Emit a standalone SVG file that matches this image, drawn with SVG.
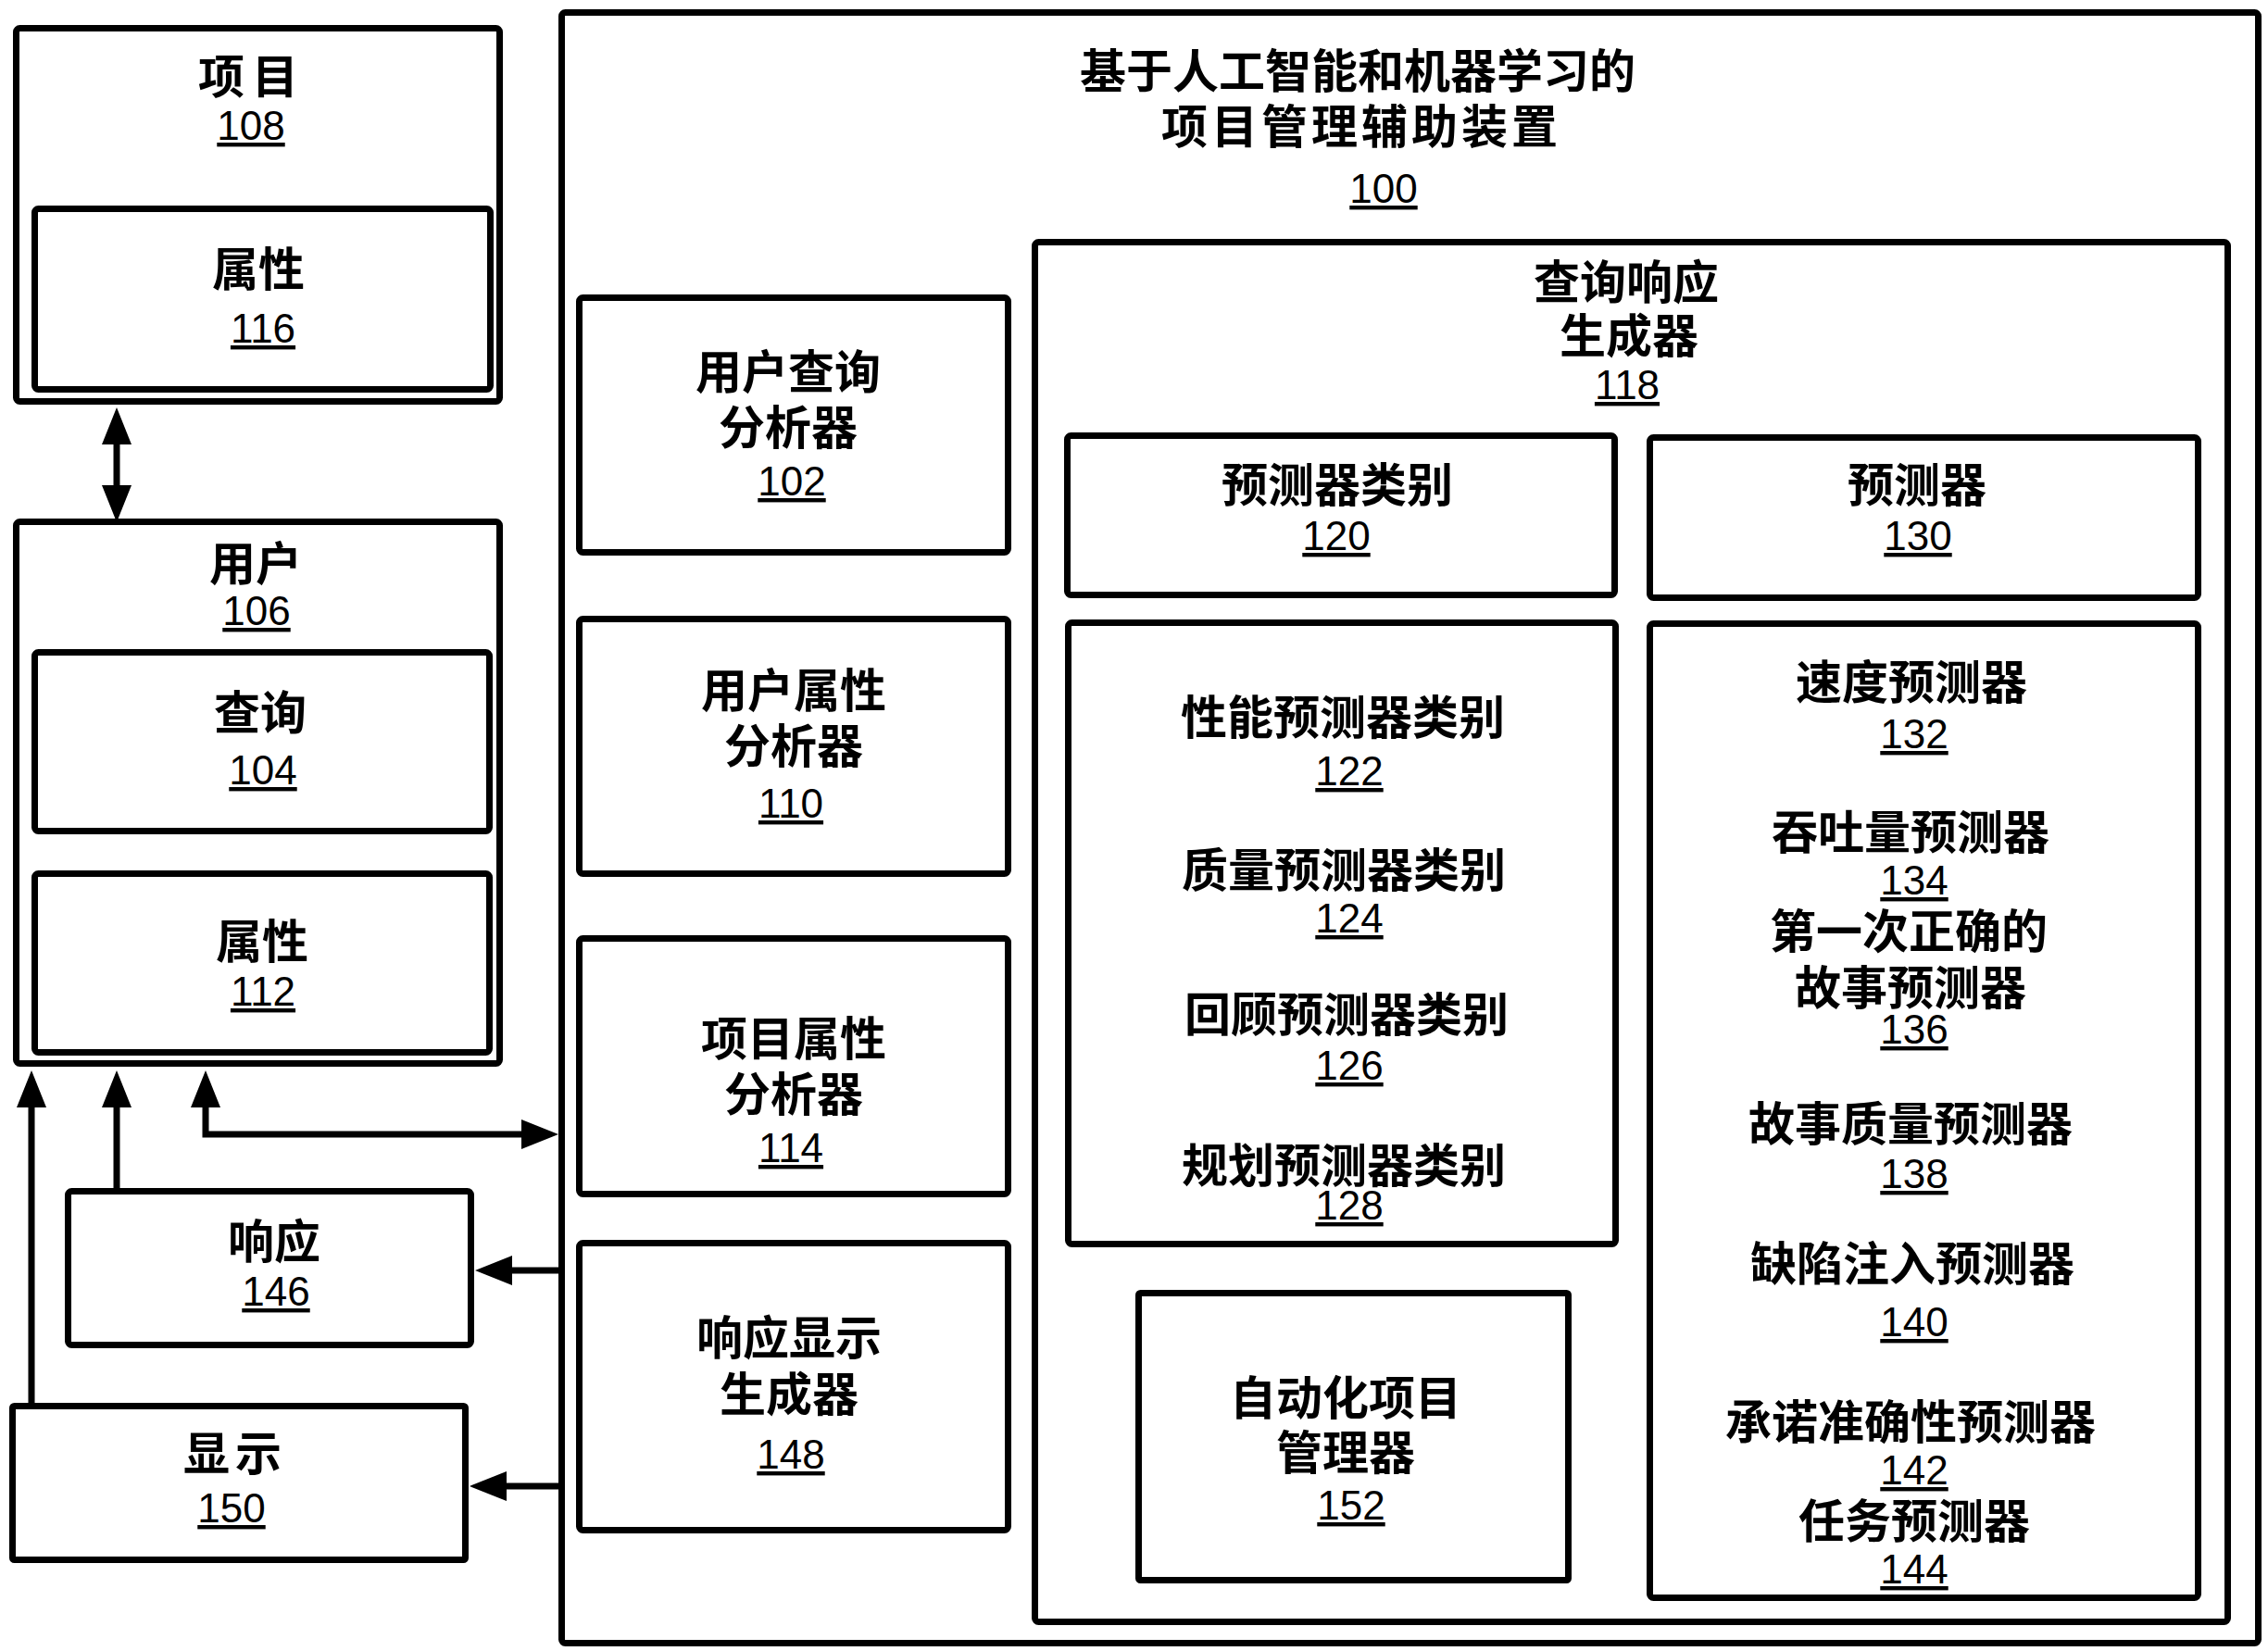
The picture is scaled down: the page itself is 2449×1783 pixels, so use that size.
<svg xmlns="http://www.w3.org/2000/svg" width="2449" height="1783" viewBox="0 0 2449 1783">
<style>
.box{fill:#fff;stroke:#000;stroke-width:7}
.cn{font-family:"Noto Sans CJK SC","Noto Sans CJK JP",sans-serif;font-weight:700;font-size:50px;text-anchor:middle;fill:#000}
.num{font-family:"Liberation Sans",Arial,sans-serif;font-size:44px;text-anchor:middle;text-decoration:underline;fill:#000}
.conn{stroke:#000;stroke-width:7;fill:none}
</style>
<defs>
<marker id="ah" markerUnits="userSpaceOnUse" markerWidth="40" markerHeight="32" refX="2" refY="16" orient="auto-start-reverse" viewBox="0 0 40 32">
<path d="M0,0 L40,16 L0,32 z" fill="#000"/>
</marker>
</defs>
<rect width="2449" height="1783" fill="#fff"/>

<g id="n100">
<rect class="box" x="606.5" y="13.5" width="1832" height="1761" rx="4"/>
<text class="cn" x="1466" y="95">基于人工智能和机器学习的</text>
<text class="cn" x="1470" y="155" letter-spacing="4">项目管理辅助装置</text>
<text class="num" x="1494" y="219">100</text>
</g>

<g id="n108">
<rect class="box" x="17.5" y="30.5" width="522" height="403" rx="4"/>
<text class="cn" x="272" y="101" letter-spacing="8">项目</text>
<text class="num" x="271" y="151">108</text>
</g>
<g id="n116">
<rect class="box" x="37.5" y="225.5" width="492" height="195" rx="4"/>
<text class="cn" x="279" y="309">属性</text>
<text class="num" x="284" y="370">116</text>
</g>

<g id="n106">
<rect class="box" x="17.5" y="563.5" width="522" height="585" rx="4"/>
<text class="cn" x="276" y="627">用户</text>
<text class="num" x="277" y="675">106</text>
</g>
<g id="n104">
<rect class="box" x="37.5" y="704.5" width="491" height="193" rx="4"/>
<text class="cn" x="281" y="788">查询</text>
<text class="num" x="284" y="847">104</text>
</g>
<g id="n112">
<rect class="box" x="37.5" y="943.5" width="491" height="193" rx="4"/>
<text class="cn" x="283" y="1035">属性</text>
<text class="num" x="284" y="1086">112</text>
</g>

<g id="n146">
<rect class="box" x="73.5" y="1286.5" width="435" height="166" rx="4"/>
<text class="cn" x="296" y="1359">响应</text>
<text class="num" x="298" y="1410">146</text>
</g>
<g id="n150">
<rect class="box" x="13.5" y="1518.5" width="489" height="166" rx="2"/>
<text class="cn" x="254" y="1588" letter-spacing="6">显示</text>
<text class="num" x="250" y="1644">150</text>
</g>

<g id="n102">
<rect class="box" x="625.5" y="321.5" width="463" height="275" rx="4"/>
<text class="cn" x="851" y="420">用户查询</text>
<text class="cn" x="851" y="480">分析器</text>
<text class="num" x="855" y="535">102</text>
</g>
<g id="n110">
<rect class="box" x="625.5" y="668.5" width="463" height="275" rx="4"/>
<text class="cn" x="857" y="764">用户属性</text>
<text class="cn" x="857" y="824">分析器</text>
<text class="num" x="854" y="883">110</text>
</g>
<g id="n114">
<rect class="box" x="625.5" y="1013.5" width="463" height="276" rx="4"/>
<text class="cn" x="857" y="1140">项目属性</text>
<text class="cn" x="857" y="1200">分析器</text>
<text class="num" x="854" y="1255">114</text>
</g>
<g id="n148">
<rect class="box" x="625.5" y="1342.5" width="463" height="310" rx="4"/>
<text class="cn" x="852" y="1463">响应显示</text>
<text class="cn" x="852" y="1524">生成器</text>
<text class="num" x="854" y="1586">148</text>
</g>

<g id="n118">
<rect class="box" x="1117.5" y="261.5" width="1288" height="1490" rx="4"/>
<text class="cn" x="1756" y="323">查询响应</text>
<text class="cn" x="1759" y="381">生成器</text>
<text class="num" x="1757" y="431">118</text>
</g>
<g id="n120">
<rect class="box" x="1152.5" y="470.5" width="591" height="172" rx="4"/>
<text class="cn" x="1444" y="542">预测器类别</text>
<text class="num" x="1443" y="594">120</text>
</g>
<g id="n130">
<rect class="box" x="1781.5" y="472.5" width="592" height="173" rx="4"/>
<text class="cn" x="2070" y="542">预测器</text>
<text class="num" x="2071" y="594">130</text>
</g>
<g id="n122-128">
<rect class="box" x="1153.5" y="672.5" width="591" height="671" rx="4"/>
<text class="cn" x="1450" y="793">性能预测器类别</text>
<text class="num" x="1457" y="848">122</text>
<text class="cn" x="1451" y="958">质量预测器类别</text>
<text class="num" x="1457" y="1007">124</text>
<text class="cn" x="1454" y="1114">回顾预测器类别</text>
<text class="num" x="1457" y="1166">126</text>
<text class="cn" x="1451" y="1277">规划预测器类别</text>
<text class="num" x="1457" y="1317">128</text>
</g>
<g id="n132-144">
<rect class="box" x="1781.5" y="673.5" width="592" height="1052" rx="4"/>
<text class="cn" x="2064" y="755">速度预测器</text>
<text class="num" x="2067" y="808">132</text>
<text class="cn" x="2063" y="917">吞吐量预测器</text>
<text class="num" x="2067" y="966">134</text>
<text class="cn" x="2061" y="1024">第一次正确的</text>
<text class="cn" x="2063" y="1085">故事预测器</text>
<text class="num" x="2067" y="1127">136</text>
<text class="cn" x="2063" y="1232">故事质量预测器</text>
<text class="num" x="2067" y="1283">138</text>
<text class="cn" x="2065" y="1383">缺陷注入预测器</text>
<text class="num" x="2067" y="1443">140</text>
<text class="cn" x="2063" y="1554">承诺准确性预测器</text>
<text class="num" x="2067" y="1603">142</text>
<text class="cn" x="2067" y="1661">任务预测器</text>
<text class="num" x="2067" y="1710">144</text>
</g>
<g id="n152">
<rect class="box" x="1229.5" y="1396.5" width="464" height="310" rx="2"/>
<text class="cn" x="1453" y="1528">自动化项目</text>
<text class="cn" x="1453" y="1587">管理器</text>
<text class="num" x="1459" y="1641">152</text>
</g>

<g id="connectors">
<path class="conn" d="M126,478 L126,526" marker-start="url(#ah)" marker-end="url(#ah)"/>
<path class="conn" d="M34,1515 L34,1194" marker-end="url(#ah)"/>
<path class="conn" d="M126,1283 L126,1194" marker-end="url(#ah)"/>
<path class="conn" d="M565,1225 L222,1225 L222,1194" marker-start="url(#ah)" marker-end="url(#ah)"/>
<path class="conn" d="M603,1372 L551,1372" marker-end="url(#ah)"/>
<path class="conn" d="M603,1605 L545,1605" marker-end="url(#ah)"/>
</g>
</svg>
